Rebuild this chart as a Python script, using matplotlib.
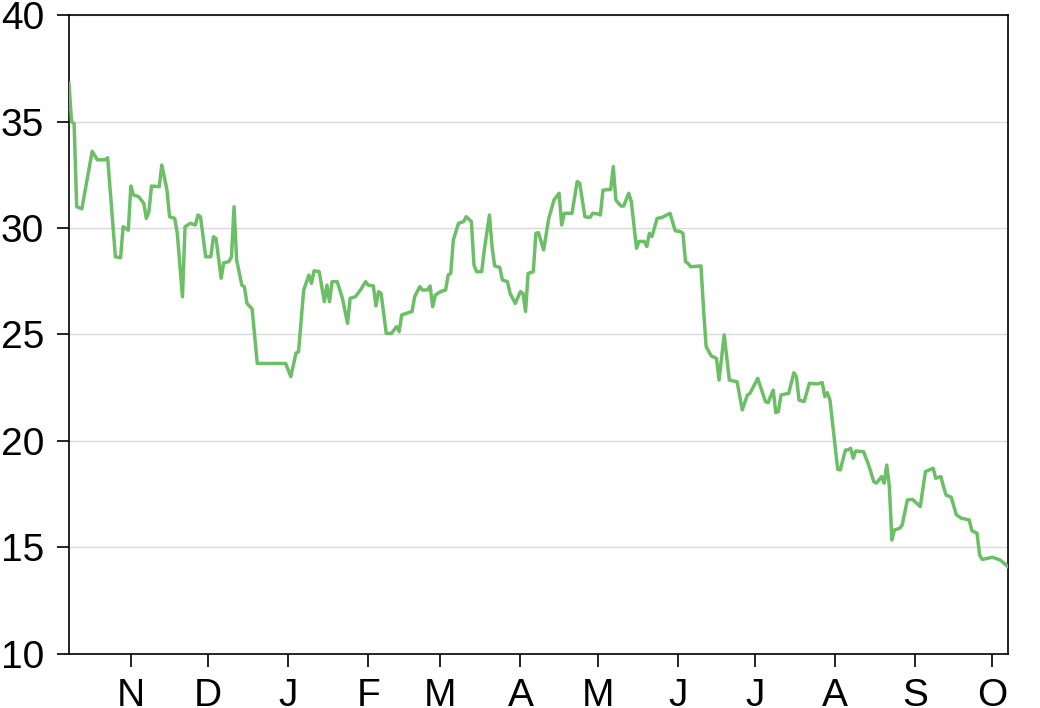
import datetime as dt
import matplotlib
matplotlib.use("Agg")
import matplotlib.pyplot as plt
import matplotlib.dates as mdates

plt.rcParams['font.family'] = ['Liberation Sans', 'DejaVu Sans']

# days since the first observation, and the observed values
start = dt.date(2014, 10, 8)
days = [0, 1, 2, 3, 5, 9, 11, 14, 15, 18, 20, 21, 23, 24, 25, 27, 29, 30, 31, 32,
        35, 36, 38, 39, 41, 42, 44, 45, 47, 49, 50, 51, 53, 55, 56, 57, 59, 60, 62, 63,
        64, 65, 67, 68, 69, 71, 73, 84, 86, 88, 89, 91, 93, 94, 95, 97, 99, 100, 101, 102,
        104, 106, 108, 109, 111, 113, 115, 116, 118, 119, 120, 121, 123, 125, 127, 128, 129, 131, 133, 134,
        136, 137, 139, 140, 141, 142, 144, 146, 147, 148, 149, 151, 153, 154, 156, 157, 158, 160, 161, 163,
        164, 165, 167, 168, 170, 171, 173, 175, 176, 177, 178, 180, 181, 182, 184, 186, 188, 190, 191, 192,
        195, 197, 198, 200, 202, 203, 205, 206, 207, 210, 211, 212, 214, 215, 217, 218, 220, 221, 223, 224,
        225, 226, 228, 230, 233, 235, 237, 238, 239, 240, 241, 245, 246, 247, 249, 251, 252, 254, 256, 259,
        261, 263, 264, 267, 270, 271, 273, 274, 275, 276, 279, 281, 282, 283, 285, 287, 290, 292, 293, 294,
        295, 297, 298, 299, 301, 302, 303, 304, 305, 308, 310, 312, 313, 315, 316, 317, 318, 319, 320, 322,
        323, 325, 327, 330, 332, 335, 336, 338, 339, 340, 342, 344, 346, 349, 350, 352, 353, 354, 358, 361,
        364]
values = [36.8, 35.0, 34.9, 31.0, 30.9, 33.6, 33.2, 33.2, 33.3, 28.65, 28.6, 30.06, 29.9, 31.97, 31.55, 31.47, 31.16, 30.45, 30.77, 31.97,
          31.94, 32.96, 31.78, 30.53, 30.45, 29.75, 26.77, 30.06, 30.22, 30.14, 30.61, 30.53, 28.65, 28.65, 29.59, 29.51, 27.64, 28.37, 28.42, 28.65,
          31.0, 28.5, 27.32, 27.24, 26.46, 26.2, 23.64, 23.64, 23.02, 24.12, 24.2, 27.09, 27.79, 27.4, 27.99, 27.95, 26.54, 27.32, 26.54, 27.48,
          27.48, 26.7, 25.52, 26.7, 26.77, 27.09, 27.48, 27.32, 27.28, 26.34, 27.01, 26.93, 25.05, 25.05, 25.37, 25.14, 25.92, 26.0, 26.08, 26.77,
          27.25, 27.09, 27.09, 27.28, 26.3, 26.85, 27.01, 27.09, 27.79, 27.87, 29.44, 30.22, 30.3, 30.53, 30.3, 28.26, 27.95, 27.95, 28.97, 30.61,
          29.13, 28.22, 28.15, 27.56, 27.48, 26.93, 26.46, 27.01, 26.93, 26.08, 27.87, 27.95, 29.75, 29.78, 28.97, 30.45, 31.31, 31.63, 30.14, 30.69,
          30.69, 32.18, 32.1, 30.53, 30.5, 30.69, 30.66, 30.61, 31.78, 31.81, 32.88, 31.31, 31.03, 31.03, 31.63, 31.24, 29.05, 29.37, 29.37, 29.13,
          29.75, 29.6, 30.45, 30.5, 30.69, 29.87, 29.83, 29.75, 28.42, 28.34, 28.18, 28.22, 26.15, 24.43, 23.99, 23.88, 22.86, 24.98, 22.86, 22.78,
          21.46, 22.16, 22.24, 22.94, 21.85, 21.8, 22.39, 21.33, 21.38, 22.16, 22.24, 23.2, 23.02, 21.92, 21.85, 22.71, 22.68, 22.74, 22.08, 22.27,
          21.92, 19.73, 18.67, 18.64, 19.58, 19.58, 19.66, 19.19, 19.53, 19.5, 18.87, 18.09, 18.02, 18.33, 18.02, 18.87, 17.9, 15.35, 15.82, 15.9,
          16.06, 17.23, 17.26, 16.92, 18.56, 18.72, 18.25, 18.33, 17.86, 17.46, 17.36, 16.53, 16.37, 16.29, 15.79, 15.67, 14.65, 14.44, 14.54, 14.41,
          14.1]
yticks = [10, 15, 20, 25, 30, 35, 40]

dates = [start + dt.timedelta(days=d) for d in days]

fig = plt.figure(figsize=(10.4, 7.08), dpi=100)
ax = fig.add_axes([0.0663, 0.0763, 0.9029, 0.9025])

ax.plot(dates, values, color="#6cbf66", linewidth=2.5, zorder=3)

ax.set_ylim(10, 40)
ax.set_yticks(yticks)
ax.set_xlim(start, start + dt.timedelta(days=364))
ax.xaxis.set_major_locator(mdates.MonthLocator())
ax.xaxis.set_major_formatter(plt.FuncFormatter(lambda v, p: mdates.num2date(v).strftime("%b")[0]))

ax.grid(axis="y", color="#d9d9d9", linewidth=1)
ax.set_axisbelow(True)
for s in ax.spines.values():
    s.set_color("black")
    s.set_linewidth(1.2)
ax.tick_params(axis="both", direction="out", length=9, width=1.2, labelsize=28, colors="black")
ax.tick_params(axis="y", pad=9)
ax.tick_params(axis="x", pad=8)

fig.savefig("out.png", dpi=100)
